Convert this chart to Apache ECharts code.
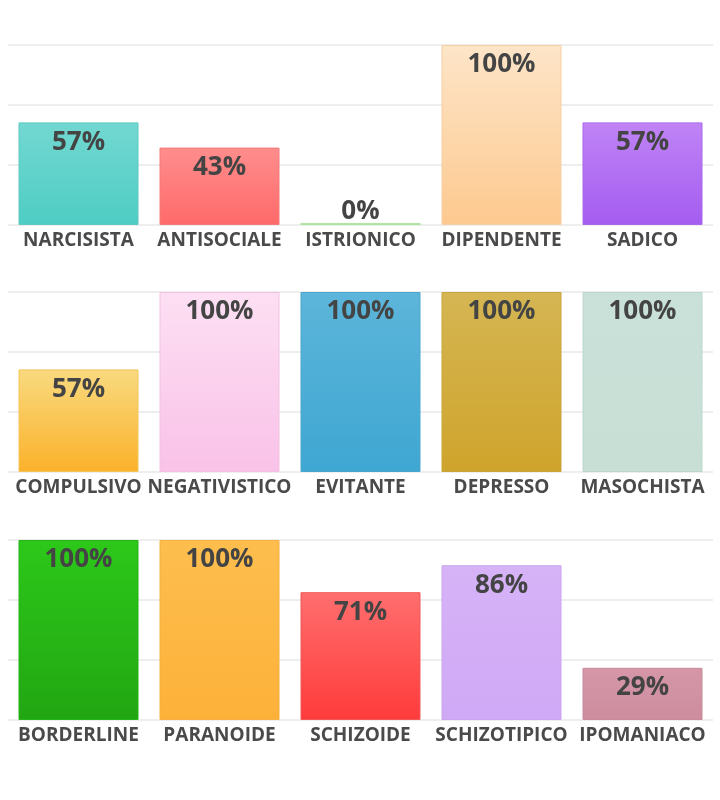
<!DOCTYPE html>
<html>
<head>
<meta charset="utf-8">
<script src="https://cdn.jsdelivr.net/npm/echarts@6/dist/echarts.min.js"></script>
<style>
html,body{margin:0;padding:0;background:#fff;}
#c{width:720px;height:800px;}
</style>
</head>
<body>
<div id="c"></div>
<script>
const categories1 = ['NARCISISTA','ANTISOCIALE','ISTRIONICO','DIPENDENTE','SADICO'];
const values1 = [57,43,0,100,57];
const categories2 = ['COMPULSIVO','NEGATIVISTICO','EVITANTE','DEPRESSO','MASOCHISTA'];
const values2 = [57,100,100,100,100];
const categories3 = ['BORDERLINE','PARANOIDE','SCHIZOIDE','SCHIZOTIPICO','IPOMANIACO'];
const values3 = [100,100,71,86,29];

const colors1 = [['#72d8d1','#4ecdc4'],['#ff8d8d','#ff6a6a'],['#b5e8a8','#a6e39a'],['#fde5c8','#fdc98f'],['#c084f6','#a45cf0']];
const colors2 = [['#f9da7f','#fbb12a'],['#fddff3','#f9c2e8'],['#5db5da','#3ea7d2'],['#d5b653','#cfa42c'],['#cae1d9','#c8dfd6']];
const colors3 = [['#2dc81a','#22a612'],['#fdbe4e','#fdb139'],['#ff6e6e','#ff3b3b'],['#d6b3f7','#d0a9f6'],['#d597a8','#cd8d9e']];
const borders1 = ['#5ec9c1','#f47a7a','#a6e39a','#f5cfa4','#a868ea'];
const borders2 = ['#f3c45a','#f2c2e3','#4aa6cd','#c9a43a','#bcd6cc'];
const borders3 = ['#25b316','#f5b040','#f05858','#c9a5ee','#c68a9b'];

const tops = [45, 292, 540];
const cats = [categories1, categories2, categories3];
const vals = [values1, values2, values3];
const cols = [colors1, colors2, colors3];
const bords = [borders1, borders2, borders3];

const grids = [], xAxes = [], yAxes = [], series = [];
for (let i = 0; i < 3; i++) {
  grids.push({left: 8, width: 705, top: tops[i], height: 180});
  xAxes.push({
    type: 'category', gridIndex: i, data: cats[i],
    axisLine: {show: false}, axisTick: {show: false},
    axisLabel: {interval: 0, margin: 6, color: '#4a4a4a', fontSize: 19, fontWeight: 'bold', fontFamily: 'Open Sans'}
  });
  yAxes.push({
    type: 'value', gridIndex: i, min: 0, max: 100, interval: 100/3,
    axisLabel: {show: false}, axisLine: {show: false}, axisTick: {show: false},
    splitLine: {lineStyle: {color: '#eeeeee', width: 2}}
  });
  series.push({
    type: 'bar', xAxisIndex: i, yAxisIndex: i, barWidth: 120, barMinHeight: 2,
    data: vals[i].map((v, j) => {
      const item = {
        value: v,
        itemStyle: {
          color: new echarts.graphic.LinearGradient(0, 0, 0, 1, [
            {offset: 0, color: cols[i][j][0]}, {offset: 1, color: cols[i][j][1]}
          ]),
          borderColor: bords[i][j], borderWidth: v === 0 ? 0 : 1
        }
      };
      if (v === 0) item.label = {position: 'top', distance: -2};
      return item;
    }),
    label: {
      show: true, position: 'insideTop', distance: 7, formatter: '{c}%',
      color: '#444444', fontSize: 26, fontWeight: 'bold', fontFamily: 'Open Sans'
    }
  });
}

const chart = echarts.init(document.getElementById('c'), null, {renderer: 'canvas'});
chart.setOption({
  animation: false,
  backgroundColor: '#ffffff',
  grid: grids, xAxis: xAxes, yAxis: yAxes, series: series
});
</script>
</body>
</html>
